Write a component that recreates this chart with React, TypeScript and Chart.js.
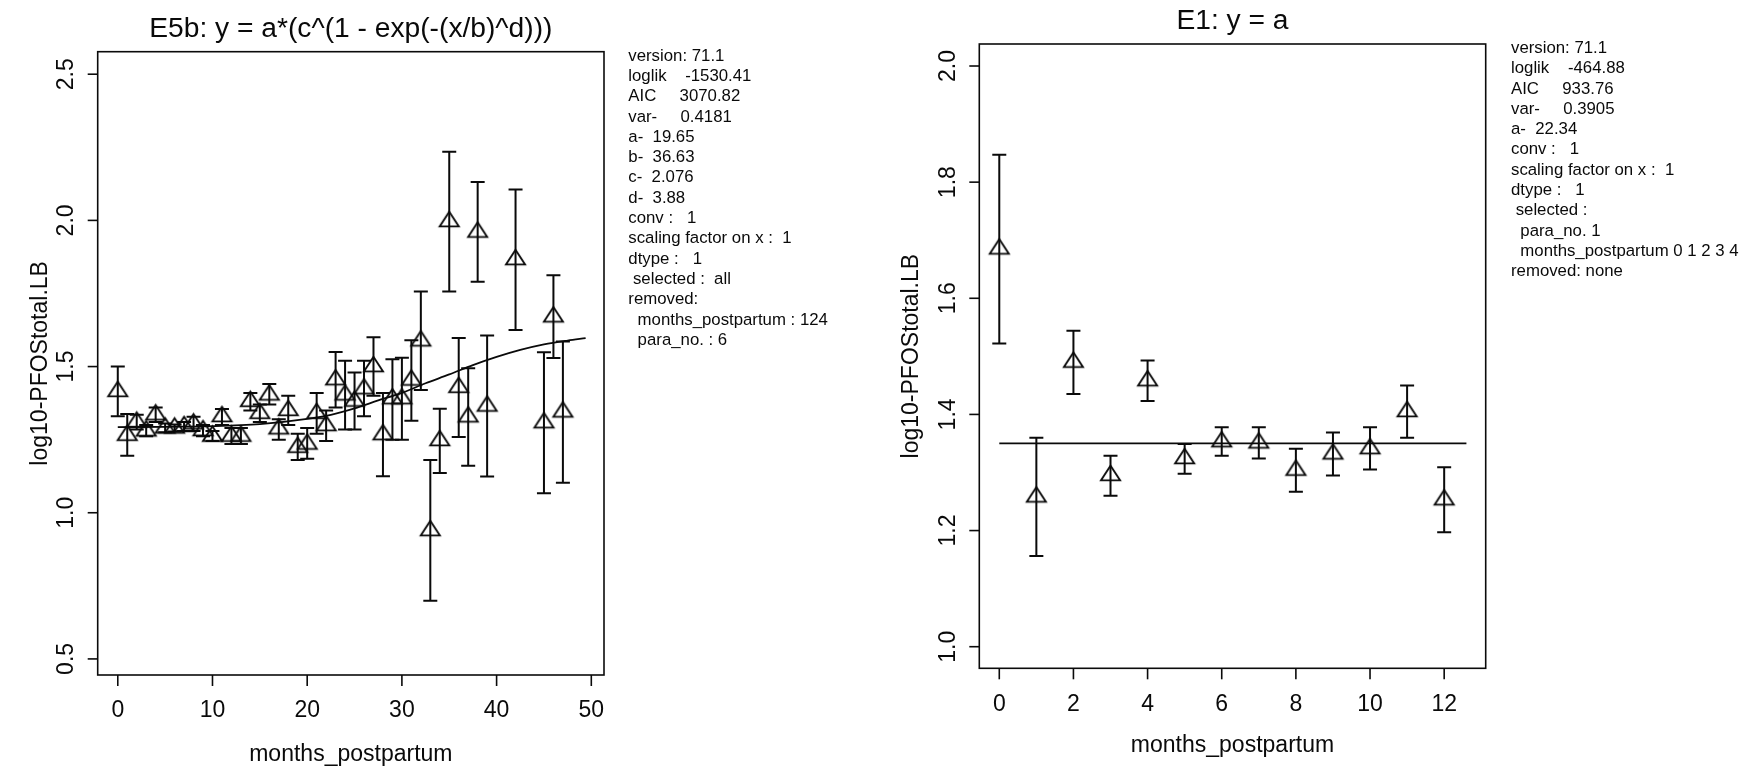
import React, { useEffect, useRef } from "react";
import { Chart, registerables } from "chart.js";

Chart.register(...registerables);

const FONT = '"Liberation Sans", Arial, Helvetica, sans-serif';
const INK = "#0a0a0a";

// ---------------- Left panel (model E5b) ----------------
const LEFT_TITLE = "E5b: y = a*(c^(1 - exp(-(x/b)^d)))";
const LEFT_MONTHS = [0, 1, 2, 3, 4, 5, 6, 7, 8, 9, 10, 11, 12, 13, 14, 15, 16, 17, 18, 19, 20, 21, 22, 23, 24, 25, 26, 27, 28, 29, 30, 31, 32, 33, 34, 35, 36, 37, 38, 39, 42, 45, 46, 47];
const LEFT_MEAN = [1.415, 1.265, 1.31, 1.28, 1.335, 1.29, 1.29, 1.295, 1.304, 1.281, 1.262, 1.329, 1.262, 1.262, 1.381, 1.34, 1.403, 1.287, 1.35, 1.224, 1.235, 1.34, 1.298, 1.455, 1.403, 1.382, 1.424, 1.5, 1.267, 1.39, 1.39, 1.454, 1.588, 0.939, 1.247, 1.996, 1.429, 1.328, 1.96, 1.365, 1.866, 1.308, 1.67, 1.345];
const LEFT_LOW = [1.33, 1.195, 1.285, 1.262, 1.31, 1.275, 1.278, 1.28, 1.28, 1.262, 1.245, 1.3, 1.235, 1.235, 1.35, 1.31, 1.37, 1.25, 1.3, 1.18, 1.185, 1.27, 1.245, 1.36, 1.285, 1.285, 1.33, 1.4, 1.125, 1.25, 1.25, 1.315, 1.42, 0.699, 1.136, 1.757, 1.259, 1.161, 1.79, 1.124, 1.625, 1.067, 1.529, 1.103];
const LEFT_HIGH = [1.5, 1.338, 1.335, 1.3, 1.36, 1.305, 1.302, 1.31, 1.328, 1.3, 1.28, 1.355, 1.29, 1.29, 1.41, 1.37, 1.44, 1.32, 1.4, 1.27, 1.29, 1.41, 1.35, 1.55, 1.52, 1.48, 1.52, 1.6, 1.41, 1.525, 1.53, 1.59, 1.757, 1.18, 1.356, 2.235, 1.598, 1.494, 2.131, 1.606, 2.106, 1.549, 1.812, 1.586];
const LEFT_FIT_X = [0, 5, 10, 15, 20, 22.5, 25, 27.5, 30, 32.5, 35, 37.5, 40, 42.5, 45, 47.5, 49.4];
const LEFT_FIT_Y = [1.293, 1.294, 1.296, 1.303, 1.321, 1.335, 1.357, 1.384, 1.41, 1.443, 1.473, 1.505, 1.533, 1.557, 1.576, 1.589, 1.597];
const LEFT_X_TICKS = [0, 10, 20, 30, 40, 50];
const LEFT_Y_TICKS = [0.5, 1.0, 1.5, 2.0, 2.5];
const LEFT_STATS = [
  "version: 71.1",
  "loglik    -1530.41",
  "AIC     3070.82",
  "var-     0.4181",
  "a-  19.65",
  "b-  36.63",
  "c-  2.076",
  "d-  3.88",
  "conv :   1",
  "scaling factor on x :  1",
  "dtype :   1",
  " selected :  all",
  "removed:",
  "  months_postpartum : 124",
  "  para_no. : 6",
];

// ---------------- Right panel (model E1) ----------------
const RIGHT_TITLE = "E1: y = a";
const RIGHT_MONTHS = [0, 1, 2, 3, 4, 5, 6, 7, 8, 9, 10, 11, 12];
const RIGHT_MEAN = [1.685, 1.258, 1.49, 1.295, 1.458, 1.324, 1.353, 1.351, 1.304, 1.332, 1.341, 1.405, 1.253];
const RIGHT_LOW = [1.522, 1.156, 1.435, 1.26, 1.423, 1.298, 1.329, 1.324, 1.267, 1.295, 1.305, 1.36, 1.197];
const RIGHT_HIGH = [1.847, 1.36, 1.544, 1.329, 1.493, 1.349, 1.378, 1.378, 1.341, 1.369, 1.378, 1.45, 1.309];
const RIGHT_FIT_X = [0, 12.6];
const RIGHT_FIT_Y = [1.35, 1.35];
const RIGHT_X_TICKS = [0, 2, 4, 6, 8, 10, 12];
const RIGHT_Y_TICKS = [1.0, 1.2, 1.4, 1.6, 1.8, 2.0];
const RIGHT_STATS = [
  "version: 71.1",
  "loglik    -464.88",
  "AIC     933.76",
  "var-     0.3905",
  "a-  22.34",
  "conv :   1",
  "scaling factor on x :  1",
  "dtype :   1",
  " selected :",
  "  para_no. 1",
  "  months_postpartum 0 1 2 3 4",
  "removed: none",
];

const X_LABEL = "months_postpartum";
const Y_LABEL = "log10-PFOStotal.LB";

type Spec = {
  canvasLeft: number;
  canvasWidth: number;
  area: { left: number; top: number; right: number; bottom: number };
  xMin: number; xMax: number; yMin: number; yMax: number;
  title: string;
  xTicks: number[]; yTicks: number[]; yDigits: number;
  months: number[]; mean: number[]; low: number[]; high: number[];
  fitX: number[]; fitY: number[];
  stats: string[]; statsX: number; statsY: number;
  yLabelOffset: number;
  xLabelOffset: number;
};

const CANVAS_H = 767;

const LEFT_SPEC: Spec = {
  canvasLeft: 0, canvasWidth: 870,
  area: { left: 97.7, top: 51.7, right: 604, bottom: 675 },
  xMin: -2.12, xMax: 51.34, yMin: 0.445, yMax: 2.577,
  title: LEFT_TITLE,
  xTicks: LEFT_X_TICKS, yTicks: LEFT_Y_TICKS, yDigits: 1,
  months: LEFT_MONTHS, mean: LEFT_MEAN, low: LEFT_LOW, high: LEFT_HIGH,
  fitX: LEFT_FIT_X, fitY: LEFT_FIT_Y,
  stats: LEFT_STATS, statsX: 628.3, statsY: 56,
  yLabelOffset: 57,
  xLabelOffset: 80,
};

const RIGHT_SPEC: Spec = {
  canvasLeft: 870, canvasWidth: 879,
  area: { left: 109.3, top: 44, right: 615.7, bottom: 668.3 },
  xMin: -0.539, xMax: 13.12, yMin: 0.9628, yMax: 2.0379,
  title: RIGHT_TITLE,
  xTicks: RIGHT_X_TICKS, yTicks: RIGHT_Y_TICKS, yDigits: 1,
  months: RIGHT_MONTHS, mean: RIGHT_MEAN, low: RIGHT_LOW, high: RIGHT_HIGH,
  fitX: RIGHT_FIT_X, fitY: RIGHT_FIT_Y,
  stats: RIGHT_STATS, statsX: 641, statsY: 48.3,
  yLabelOffset: 68,
  xLabelOffset: 77,
};

function makeTriangle(w: number, h: number, lw: number): HTMLCanvasElement {
  const pad = Math.ceil(lw) + 1;
  const W = Math.round(w + 2 * pad);
  const H = Math.round((4 * h) / 3 + 2 * pad);
  const c = document.createElement("canvas");
  c.width = W;
  c.height = H;
  const g = c.getContext("2d")!;
  const cx = W / 2;
  const cy = H / 2;
  g.beginPath();
  g.moveTo(cx, cy - (2 * h) / 3);
  g.lineTo(cx + w / 2, cy + h / 3);
  g.lineTo(cx - w / 2, cy + h / 3);
  g.closePath();
  g.lineWidth = lw;
  g.lineJoin = "miter";
  g.strokeStyle = INK;
  g.stroke();
  return c;
}

function makeOverlay(spec: Spec) {
  return {
    id: "overlay",
    beforeDatasetsDraw(chart: any) {
      const ctx: CanvasRenderingContext2D = chart.ctx;
      const xs = chart.scales.x;
      const ys = chart.scales.y;
      const CAP = 7;
      ctx.save();
      ctx.strokeStyle = INK;
      ctx.lineWidth = 2;
      spec.months.forEach((m, i) => {
        const px = xs.getPixelForValue(m);
        const pl = ys.getPixelForValue(spec.low[i]);
        const ph = ys.getPixelForValue(spec.high[i]);
        ctx.beginPath();
        ctx.moveTo(px, pl);
        ctx.lineTo(px, ph);
        ctx.moveTo(px - CAP, pl);
        ctx.lineTo(px + CAP, pl);
        ctx.moveTo(px - CAP, ph);
        ctx.lineTo(px + CAP, ph);
        ctx.stroke();
      });
      ctx.restore();
    },
    afterDraw(chart: any) {
      const ctx: CanvasRenderingContext2D = chart.ctx;
      const xs = chart.scales.x;
      const ys = chart.scales.y;
      const a = chart.chartArea;
      ctx.save();
      ctx.strokeStyle = INK;
      ctx.fillStyle = INK;
      // box
      ctx.lineWidth = 1.6;
      ctx.strokeRect(a.left, a.top, a.right - a.left, a.bottom - a.top);
      // x ticks
      ctx.lineWidth = 1.6;
      ctx.font = `23px ${FONT}`;
      ctx.textAlign = "center";
      ctx.textBaseline = "middle";
      spec.xTicks.forEach((t) => {
        const px = xs.getPixelForValue(t);
        ctx.beginPath();
        ctx.moveTo(px, a.bottom);
        ctx.lineTo(px, a.bottom + 11);
        ctx.stroke();
        ctx.fillText(String(t), px, a.bottom + 36);
      });
      // y ticks
      spec.yTicks.forEach((t) => {
        const py = ys.getPixelForValue(t);
        ctx.beginPath();
        ctx.moveTo(a.left, py);
        ctx.lineTo(a.left - 10, py);
        ctx.stroke();
        ctx.save();
        ctx.translate(a.left - 31, py);
        ctx.rotate(-Math.PI / 2);
        ctx.fillText(t.toFixed(spec.yDigits), 0, 0);
        ctx.restore();
      });
      // axis titles
      ctx.fillText(X_LABEL, (a.left + a.right) / 2, a.bottom + spec.xLabelOffset);
      ctx.save();
      ctx.translate(a.left - spec.yLabelOffset, (a.top + a.bottom) / 2);
      ctx.rotate(-Math.PI / 2);
      ctx.fillText(Y_LABEL, 0, 0);
      ctx.restore();
      // main title
      ctx.font = `28.2px ${FONT}`;
      ctx.textBaseline = "alphabetic";
      ctx.fillText(spec.title, (a.left + a.right) / 2, a.top - 15);
      // stats text
      ctx.font = `16.8px ${FONT}`;
      ctx.textAlign = "left";
      ctx.textBaseline = "middle";
      spec.stats.forEach((line, i) => {
        ctx.fillText(line, spec.statsX, spec.statsY + i * 20.3);
      });
      ctx.restore();
    },
  };
}

function Panel({ spec }: { spec: Spec }) {
  const ref = useRef<HTMLCanvasElement | null>(null);
  useEffect(() => {
    const canvas = ref.current;
    if (!canvas) return;
    const tri = makeTriangle(19, 14.5, 1.9);
    const chart = new Chart(canvas, {
      type: "scatter",
      data: {
        datasets: [
          {
            type: "scatter",
            data: spec.months.map((m, i) => ({ x: m, y: spec.mean[i] })),
            pointStyle: tri as any,
            pointRadius: 10,
            borderColor: INK,
            backgroundColor: "rgba(0,0,0,0)",
          } as any,
          {
            type: "line",
            data: spec.fitX.map((x, i) => ({ x, y: spec.fitY[i] })),
            borderColor: INK,
            borderWidth: 1.8,
            pointRadius: 0,
            fill: false,
            cubicInterpolationMode: "monotone",
          } as any,
        ],
      },
      options: {
        animation: false,
        responsive: false,
        maintainAspectRatio: false,
        devicePixelRatio: 1,
        events: [],
        layout: {
          padding: {
            left: spec.area.left,
            top: spec.area.top,
            right: spec.canvasWidth - spec.area.right,
            bottom: CANVAS_H - spec.area.bottom,
          },
        },
        scales: {
          x: { type: "linear", min: spec.xMin, max: spec.xMax, display: false },
          y: { type: "linear", min: spec.yMin, max: spec.yMax, display: false },
        },
        plugins: {
          legend: { display: false },
          tooltip: { enabled: false },
          title: { display: false },
        },
      },
      plugins: [makeOverlay(spec)],
    });
    return () => chart.destroy();
  }, [spec]);
  return (
    <canvas
      ref={ref}
      width={spec.canvasWidth}
      height={CANVAS_H}
      style={{ position: "absolute", left: spec.canvasLeft, top: 0, width: spec.canvasWidth, height: CANVAS_H }}
    />
  );
}

export default function App() {
  return (
    <div style={{ position: "absolute", left: 0, top: 0, width: 1749, height: 767, background: "#ffffff", overflow: "hidden" }}>
      <Panel spec={LEFT_SPEC} />
      <Panel spec={RIGHT_SPEC} />
    </div>
  );
}
